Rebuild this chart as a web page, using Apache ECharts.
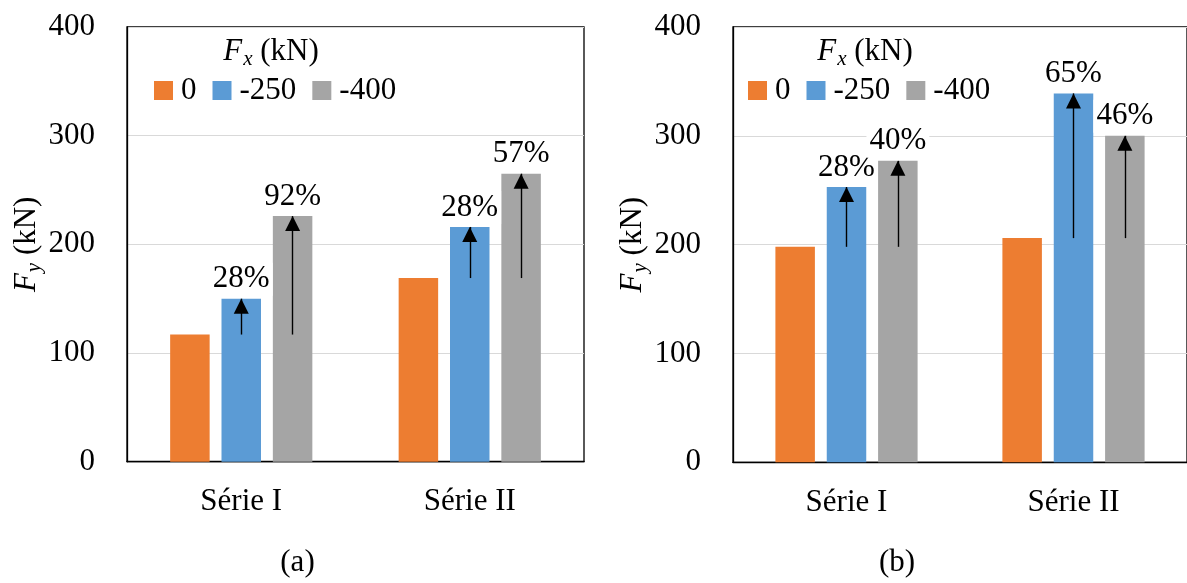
<!DOCTYPE html>
<html>
<head>
<meta charset="utf-8">
<script src="https://cdn.jsdelivr.net/npm/echarts@6/dist/echarts.min.js"></script>
<style>
html, body { margin: 0; padding: 0; background: #fff; }
#chart { width: 1187px; height: 583px; }
</style>
</head>
<body>
<div id="chart"></div>
<script>
// ---- data ----
const categories = ['Série I', 'Série II'];
const seriesNames = ['0', '-250', '-400'];
const yMin = 0, yMax = 400, yStep = 100;

// panel (a)
const aFx0 = [117, 169];
const aFx250 = [150, 216];
const aFx400 = [226, 265];
const aPct250 = ['28%', '28%'];
const aPct400 = ['92%', '57%'];

// panel (b)
const bFx0 = [198, 206];
const bFx250 = [253, 339];
const bFx400 = [277, 300];
const bPct250 = ['28%', '65%'];
const bPct400 = ['40%', '46%'];

const panelLabels = ['(a)', '(b)'];

// ---- styling ----
const FONT = '"Liberation Serif", "DejaVu Serif", serif';
const FS = 31;
const colors = ['#ED7D31', '#5B9BD5', '#A5A5A5'];

function bar(name, values, gi, color, pct, bases) {
  const s = {
    name: name,
    type: 'bar',
    xAxisIndex: gi,
    yAxisIndex: gi,
    data: values,
    barWidth: 39.5,
    barGap: '30%',
    itemStyle: { color: color },
    animation: false
  };
  if (pct) {
    s.label = {
      show: true,
      position: 'top',
      distance: 3,
      formatter: p => pct[p.dataIndex],
      fontFamily: FONT,
      fontSize: FS,
      lineHeight: 31,
      color: '#000',
      backgroundColor: '#fff',
      padding: [1, 3, 1, 3]
    };
    s.markLine = {
      silent: true,
      animation: false,
      symbol: ['none', 'triangle'],
      symbolSize: [15, 15],
      symbolOffset: [[0, 0], [0, 7.5]],
      label: { show: false },
      lineStyle: { color: '#000', width: 1.4, type: 'solid' },
      emphasis: { disabled: true },
      data: values.map((v, i) => [{ coord: [i, bases[i]] }, { coord: [i, v] }])
    };
  }
  return s;
}

const grids = [
  { left: 127, top: 27, width: 457, height: 434.7 },
  { left: 733, top: 27, width: 458, height: 435.3 }
];

function xAx(gi) {
  return {
    type: 'category', gridIndex: gi, data: categories,
    axisTick: { show: false },
    axisLine: { show: true, lineStyle: { color: '#000', width: 1.3 } },
    axisLabel: { fontFamily: FONT, fontSize: FS, color: '#000', margin: 25, lineHeight: 31 },
    splitLine: { show: false }
  };
}
function yAx(gi) {
  return {
    type: 'value', gridIndex: gi, min: yMin, max: yMax, interval: yStep,
    name: '{i|F}{sub|y}{n| (kN)}',
    nameLocation: 'middle',
    nameGap: 84,
    nameRotate: 90,
    nameTextStyle: {
      rich: {
        i: { fontFamily: FONT, fontSize: FS, fontStyle: 'italic', color: '#000', lineHeight: 31 },
        sub: { fontFamily: FONT, fontSize: 21, fontStyle: 'italic', color: '#000', lineHeight: 21, padding: [14, 0, 0, 1] },
        n: { fontFamily: FONT, fontSize: FS, color: '#000', lineHeight: 31 }
      }
    },
    axisTick: { show: false },
    axisLine: { show: true, lineStyle: { color: '#000', width: 1.3 } },
    axisLabel: { fontFamily: FONT, fontSize: FS, color: '#000', margin: 32, padding: [0, 0, 7, 0] },
    splitLine: { show: true, lineStyle: { color: '#d9d9d9', width: 1.2 } }
  };
}

function legend(left) {
  return {
    data: seriesNames,
    left: left, top: 75,
    orient: 'horizontal',
    icon: 'rect',
    itemWidth: 19, itemHeight: 19,
    itemGap: 16,
    padding: 0,
    selectedMode: false,
    textStyle: { fontFamily: FONT, fontSize: FS, color: '#000', lineHeight: 31, padding: [0, 0, 0, 3] }
  };
}

const richTitle = {
  i: { fontFamily: FONT, fontSize: 31, fontStyle: 'italic', fill: '#000', lineHeight: 31 },
  sub: { fontFamily: FONT, fontSize: 21, fontStyle: 'italic', fill: '#000', lineHeight: 21, padding: [14, 0, 0, 1] },
  n: { fontFamily: FONT, fontSize: 31, fill: '#000', lineHeight: 31 }
};

const option = {
  backgroundColor: '#fff',
  animation: false,
  grid: grids.map(g => Object.assign({ show: true, borderColor: '#000', borderWidth: 1.3, backgroundColor: 'transparent' }, g)),
  xAxis: [xAx(0), xAx(1)],
  yAxis: [yAx(0), yAx(1)],
  legend: [legend(154), legend(748)],
  graphic: [
    { type: 'text', x: 271, y: 52, style: { text: '{i|F}{sub|x}{n| (kN)}', rich: richTitle, align: 'center', verticalAlign: 'middle' } },
    { type: 'text', x: 865, y: 52, style: { text: '{i|F}{sub|x}{n| (kN)}', rich: richTitle, align: 'center', verticalAlign: 'middle' } },
    { type: 'text', x: 297.5, y: 562.5, style: { text: panelLabels[0], fontFamily: FONT, fontSize: 31, fill: '#000', align: 'center', verticalAlign: 'middle' } },
    { type: 'text', x: 897, y: 562.5, style: { text: panelLabels[1], fontFamily: FONT, fontSize: 31, fill: '#000', align: 'center', verticalAlign: 'middle' } }
  ],
  series: [
    bar(seriesNames[0], aFx0, 0, colors[0]),
    bar(seriesNames[1], aFx250, 0, colors[1], aPct250, aFx0),
    bar(seriesNames[2], aFx400, 0, colors[2], aPct400, aFx0),
    bar(seriesNames[0], bFx0, 1, colors[0]),
    bar(seriesNames[1], bFx250, 1, colors[1], bPct250, bFx0),
    bar(seriesNames[2], bFx400, 1, colors[2], bPct400, bFx0)
  ]
};

const chart = echarts.init(document.getElementById('chart'), null, { renderer: 'canvas' });
chart.setOption(option);
</script>
</body>
</html>
